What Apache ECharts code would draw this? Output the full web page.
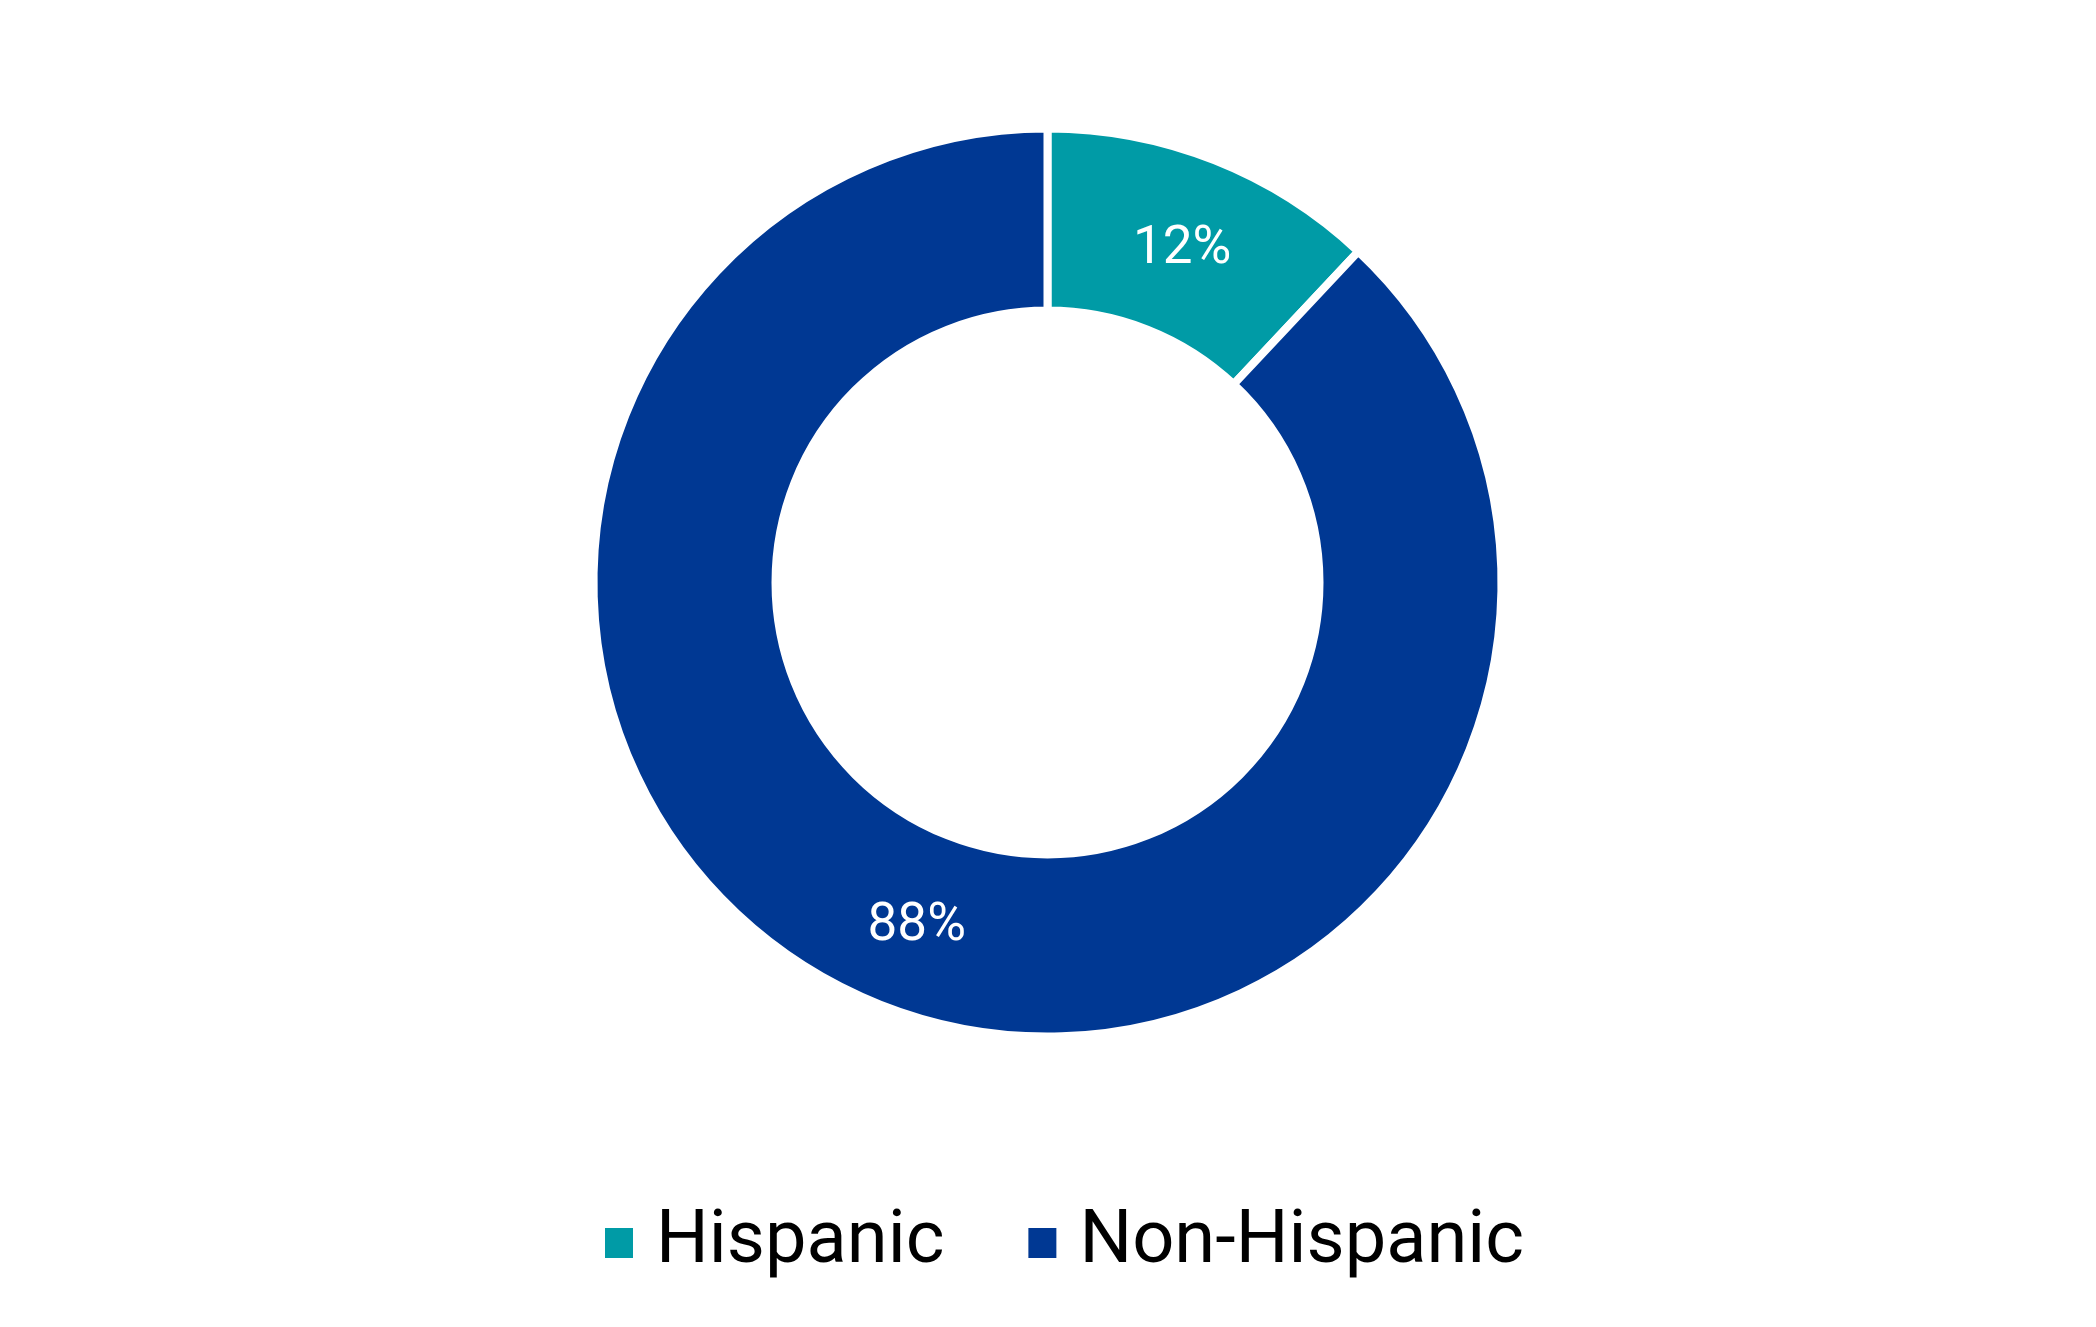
<!DOCTYPE html>
<html>
<head>
<meta charset="utf-8">
<script src="https://cdn.jsdelivr.net/npm/echarts@6/dist/echarts.min.js"></script>
<style>
html,body{margin:0;padding:0;background:#fff;}
#chart{width:2096px;height:1327px;}
</style>
</head>
<body>
<div id="chart"></div>
<script>
const categories = ['Hispanic', 'Non-Hispanic'];
const values = [12, 88];
const colors = ['#009BA6', '#003893'];
const labelOffsets = [[0, 8], [4, 4]];

const chart = echarts.init(document.getElementById('chart'));
chart.setOption({
  backgroundColor: '#ffffff',
  animation: false,
  legend: {
    data: categories,
    left: 598,
    top: 1197,
    itemWidth: 30,
    itemHeight: 32,
    itemGap: 82,
    icon: 'rect',
    textStyle: { fontFamily: 'Roboto', fontSize: 74, color: '#000000', lineHeight: 74, padding: [8, 0, 0, 17] }
  },
  series: [{
    type: 'pie',
    center: [1047.5, 582.5],
    radius: [272, 454],
    startAngle: 90,
    clockwise: true,
    avoidLabelOverlap: false,
    itemStyle: { borderColor: '#ffffff', borderWidth: 8 },
    label: {
      show: true,
      position: 'inside',
      formatter: '{c}%',
      fontFamily: 'Roboto',
      fontSize: 53,
      color: '#ffffff',
      fontWeight: 'normal'
    },
    labelLine: { show: false },
    emphasis: { disabled: true },
    data: categories.map((c, i) => ({
      name: c,
      value: values[i],
      itemStyle: { color: colors[i] },
      label: { offset: labelOffsets[i] }
    }))
  }]
});
</script>
</body>
</html>
